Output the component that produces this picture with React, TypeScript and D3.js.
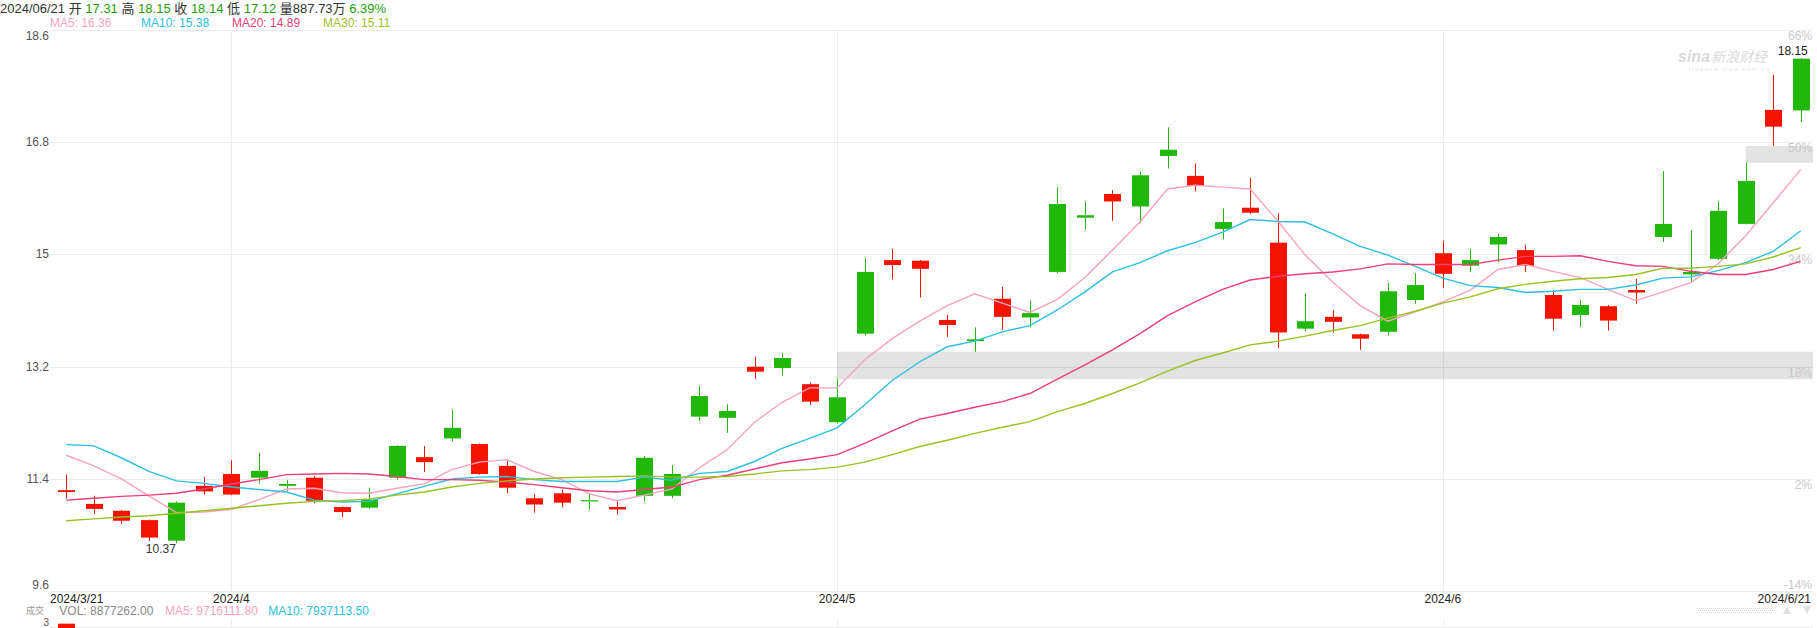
import React from 'react';
import * as d3 from 'd3';

const dates = [
  '3/21','3/22','3/25','3/26','3/27','3/28',
  '4/1','4/2','4/3','4/4','4/5','4/8','4/9','4/10','4/11','4/12','4/15','4/16','4/17','4/18','4/19','4/22','4/23','4/24','4/25','4/26','4/29','4/30',
  '5/1','5/2','5/3','5/6','5/7','5/8','5/9','5/10','5/13','5/14','5/15','5/16','5/17','5/20','5/21','5/22','5/23','5/24','5/28','5/29','5/30','5/31',
  '6/3','6/4','6/5','6/6','6/7','6/10','6/11','6/12','6/13','6/14','6/17','6/18','6/20','6/21'
];
const open = [11.22,11.00,10.89,10.74,10.41,11.29,11.48,11.42,11.29,11.42,10.95,10.94,11.42,11.75,12.05,11.96,11.61,11.09,11.17,11.04,10.95,11.13,11.13,12.40,12.38,13.20,13.18,12.92,12.31,13.73,14.91,14.90,13.95,13.61,14.29,13.99,14.72,15.59,15.97,15.77,16.58,16.26,15.41,15.75,15.19,13.81,14.00,13.72,13.76,14.27,15.02,14.82,15.16,15.07,14.35,14.03,14.17,14.43,15.28,14.68,14.93,15.49,17.32,17.31];
const high = [11.47,11.13,10.90,10.75,11.04,11.43,11.70,11.82,11.38,11.45,10.96,11.26,11.94,11.93,12.51,11.97,11.69,11.16,11.23,11.17,11.04,11.77,11.62,12.89,12.60,13.36,13.42,12.95,13.00,14.94,15.09,14.91,14.03,13.83,14.48,14.26,16.08,15.85,16.03,16.33,17.04,16.46,15.74,16.23,15.66,14.38,14.11,13.73,14.54,14.70,15.22,15.09,15.33,15.15,14.43,14.27,14.19,14.61,16.34,15.39,15.85,16.47,17.88,18.15];
const low = [11.09,10.84,10.68,10.41,10.37,11.15,11.14,11.33,11.20,11.01,10.79,10.92,11.39,11.51,12.00,11.47,11.17,10.86,10.95,10.91,10.83,11.04,11.09,12.33,12.14,13.01,13.06,12.59,12.29,13.70,14.60,14.31,13.68,13.44,13.79,13.83,14.70,15.40,15.54,15.51,16.38,16.01,15.24,15.65,13.50,13.77,13.75,13.47,13.70,14.21,14.46,14.72,14.88,14.72,13.78,13.84,13.78,14.21,15.20,14.55,14.91,15.48,16.74,17.12];
const close = [11.19,10.92,10.73,10.46,11.02,11.20,11.15,11.53,11.32,11.05,10.87,11.07,11.93,11.67,12.22,11.48,11.26,10.99,11.02,11.06,10.91,11.74,11.48,12.73,12.49,13.12,13.34,12.64,12.71,14.72,14.83,14.77,13.87,13.64,14.00,14.06,15.81,15.63,15.85,16.27,16.68,16.10,15.52,15.67,13.75,13.93,13.92,13.65,14.41,14.51,14.69,14.91,15.28,14.82,13.97,14.19,13.94,14.39,15.49,14.72,15.70,16.18,17.05,18.14];

const ma5 = [11.78,11.61,11.40,11.13,10.86,10.87,10.91,11.07,11.24,11.25,11.18,11.17,11.25,11.32,11.55,11.67,11.71,11.52,11.39,11.16,11.05,11.14,11.24,11.58,11.87,12.31,12.63,12.86,12.86,13.31,13.65,13.93,14.18,14.37,14.22,14.07,14.28,14.63,15.07,15.52,16.05,16.11,16.08,16.05,15.54,14.99,14.56,14.18,13.93,14.08,14.24,14.43,14.76,14.84,14.73,14.63,14.44,14.26,14.40,14.55,14.85,15.30,15.83,16.36];
const ma10 = [11.95,11.93,11.74,11.52,11.37,11.33,11.27,11.23,11.19,11.06,11.03,11.04,11.16,11.28,11.40,11.43,11.44,11.39,11.36,11.36,11.36,11.43,11.38,11.49,11.52,11.68,11.89,12.05,12.22,12.59,12.98,13.28,13.52,13.61,13.76,13.86,14.11,14.40,14.72,14.87,15.06,15.19,15.36,15.56,15.53,15.52,15.33,15.13,14.99,14.81,14.62,14.50,14.47,14.39,14.41,14.44,14.44,14.51,14.62,14.64,14.74,14.87,15.05,15.38];
const ma20 = [11.06,11.09,11.12,11.14,11.17,11.24,11.32,11.39,11.47,11.48,11.49,11.48,11.44,11.39,11.39,11.38,11.35,11.31,11.26,11.21,11.19,11.23,11.27,11.39,11.46,11.56,11.66,11.72,11.79,11.97,12.17,12.36,12.45,12.55,12.64,12.77,13.00,13.23,13.47,13.73,14.02,14.24,14.44,14.59,14.65,14.69,14.72,14.77,14.85,14.84,14.84,14.84,14.91,14.97,14.97,14.98,14.89,14.82,14.81,14.73,14.68,14.68,14.76,14.89];
const ma30 = [10.73,10.76,10.79,10.81,10.85,10.89,10.93,10.97,11.01,11.04,11.05,11.08,11.14,11.19,11.27,11.33,11.37,11.40,11.42,11.43,11.44,11.45,11.43,11.43,11.44,11.48,11.53,11.55,11.59,11.67,11.79,11.92,12.02,12.13,12.23,12.32,12.48,12.61,12.77,12.94,13.13,13.30,13.42,13.55,13.61,13.69,13.78,13.86,13.98,14.09,14.22,14.32,14.45,14.52,14.57,14.61,14.63,14.68,14.78,14.78,14.81,14.85,14.96,15.11];

const maNames = ['MA5', 'MA10', 'MA20', 'MA30'];
const maHeaderValues = ['16.36', '15.38', '14.89', '15.11'];

const priceTicks = [18.6, 16.8, 15, 13.2, 11.4, 9.6];
const priceTickLabels = ['18.6', '16.8', '15', '13.2', '11.4', '9.6'];
const pctTickLabels = ['66%', '50%', '34%', '18%', '2%', '-14%'];

const monthTickDates = ['4/1', '5/1', '6/3'];
const monthTickLabels = ['2024/4', '2024/5', '2024/6'];
const firstDateLabel = '2024/3/21';
const lastDateLabel = '2024/6/21';

const gapStartDates = ['5/1', '6/18'];
const gapLow = [13.0, 16.47];
const gapHigh = [13.44, 16.74];

const volumeDates = ['3/21', '6/21'];
const volumeValues = [31000000, 8877262];
const volumeTickLabel = '3';

const header = [
  { t: '2024/06/21 ', c: 'dark' }, { t: '开 ', c: 'dark' }, { t: '17.31', c: 'up' },
  { t: ' 高 ', c: 'dark' }, { t: '18.15', c: 'up' }, { t: ' 收 ', c: 'dark' }, { t: '18.14', c: 'up' },
  { t: ' 低 ', c: 'dark' }, { t: '17.12', c: 'up' }, { t: ' 量', c: 'dark' }, { t: '887.73万', c: 'dark' },
  { t: ' 6.39%', c: 'up' },
];

const W = 1817;
const H = 628;
const FONT = "'Liberation Sans', Arial, 'Noto Sans CJK SC', sans-serif";
const UP = '#22b80a';
const DOWN = '#f31400';
const MA_COLORS = ['#f7a3bf', '#2cbfe0', '#ec3f75', '#9bc11f'];

export default function App() {
  const plotLeft = 50;
  const plotRight = 1813;
  const x = d3.scaleBand<string>().domain(dates).range([52.5, 1814.5]).paddingInner(0).paddingOuter(0);
  const bw = x.bandwidth();
  const xc = (d: string) => (x(d) as number) + bw / 2;
  const y = d3.scaleLinear().domain([9.6, 18.6]).range([591.2, 30.0]);
  const yVol = d3.scaleLinear().domain([0, 30000000]).range([727, 627]);

  const line = d3.line<number>().x((_, i) => xc(dates[i])).y((v) => y(v));
  const mas = [ma5, ma10, ma20, ma30];
  const bodyW = 17;

  const gridColor = '#ececec';

  return (
    <svg width={W} height={H} style={{ position: 'absolute', left: 0, top: 0, background: '#fff' }} fontFamily={FONT}>
      <rect x={0} y={0} width={W} height={H} fill="#fff" />
      {/* header */}
      <text x={0} y={7.5} fontSize={13} dominantBaseline="central">
        {header.map((h, i) => (
          <tspan key={i} fill={h.c === 'up' ? '#1f9e0c' : '#333'}>{h.t}</tspan>
        ))}
      </text>
      {maNames.map((n, i) => (
        <text key={n} x={50 + i * 91} y={22.7} fontSize={12} dominantBaseline="central" fill={MA_COLORS[i]}>
          {n}: {maHeaderValues[i]}
        </text>
      ))}

      {/* horizontal grid */}
      {priceTicks.map((p) => (
        <line key={p} x1={plotLeft} x2={plotRight} y1={Math.round(y(p)) + 0.5} y2={Math.round(y(p)) + 0.5} stroke={gridColor} />
      ))}
      {/* vertical grid */}
      {monthTickDates.map((d) => (
        <g key={d}>
          <line x1={Math.round(xc(d)) + 0.5} x2={Math.round(xc(d)) + 0.5} y1={y(18.6)} y2={y(9.6)} stroke={gridColor} />
          <line x1={Math.round(xc(d)) + 0.5} x2={Math.round(xc(d)) + 0.5} y1={619} y2={H} stroke={gridColor} />
        </g>
      ))}
      <line x1={plotLeft} x2={plotRight} y1={627.5} y2={627.5} stroke={gridColor} />

      {/* gap bands */}
      {gapStartDates.map((d, i) => (
        <rect key={d} x={xc(d)} width={plotRight - xc(d)} y={y(gapHigh[i])} height={y(gapLow[i]) - y(gapHigh[i])} fill="rgba(0,0,0,0.11)" />
      ))}

      {/* watermark */}
      <text x={1678} y={62} fontSize={16} fontStyle="italic" fontWeight="bold" fill="#dadada">sina</text>
      <text x={1711} y={62} fontSize={14} fontStyle="italic" fill="#dadada">新浪财经</text>
      <text x={1689} y={71} fontSize={6} fill="#e4e4e4" letterSpacing={1.5}>finance.sina.com.cn</text>

      {/* y labels */}
      {priceTicks.map((p, i) => {
        const yy = y(p);
        const dy = i === 0 ? 6 : i === priceTicks.length - 1 ? -6 : 0;
        return (
          <text key={p} x={49} y={yy + dy} fontSize={12} textAnchor="end" dominantBaseline="central" fill="#555">
            {priceTickLabels[i]}
          </text>
        );
      })}
      {priceTicks.map((p, i) => {
        const yy = y(p);
        const dy = i === priceTicks.length - 1 ? -6 : 6;
        return (
          <text key={'p' + p} x={1812} y={yy + dy} fontSize={12} textAnchor="end" dominantBaseline="central" fill="#c9c9c9">
            {pctTickLabels[i]}
          </text>
        );
      })}

      {/* candles */}
      {dates.map((d, i) => {
        const o = open[i], c = close[i], h = high[i], l = low[i];
        const col = c >= o ? UP : DOWN;
        const cx = Math.round(xc(d)) + 0.5;
        const top = y(Math.max(o, c));
        const bh = Math.max(1, y(Math.min(o, c)) - top);
        return (
          <g key={d}>
            <line x1={cx} x2={cx} y1={y(h)} y2={y(l)} stroke={col} strokeWidth={1} />
            <rect x={Math.round(cx - bodyW / 2)} y={top} width={bodyW} height={bh} fill={col} />
          </g>
        );
      })}

      {/* MA lines */}
      {mas.map((m, k) => (
        <path key={k} d={line(m) || ''} fill="none" stroke={MA_COLORS[k]} strokeWidth={1.4} />
      ))}

      {/* extreme labels */}
      <text x={xc('3/26') - 3} y={y(10.37) + 6} fontSize={12} dominantBaseline="central" fill="#333">10.37</text>
      <text x={xc('6/21') + 7} y={y(18.15) - 7.3} fontSize={12} textAnchor="end" dominantBaseline="central" fill="#222">18.15</text>

      {/* x labels */}
      <text x={plotLeft} y={599.3} fontSize={12} dominantBaseline="central" fill="#222">{firstDateLabel}</text>
      {monthTickDates.map((d, i) => (
        <text key={d} x={xc(d)} y={599.3} fontSize={12} textAnchor="middle" dominantBaseline="central" fill="#222">
          {monthTickLabels[i]}
        </text>
      ))}
      <text x={1811} y={599.3} fontSize={12} textAnchor="end" dominantBaseline="central" fill="#222">{lastDateLabel}</text>

      {/* volume header */}
      <text x={26} y={611} fontSize={9} dominantBaseline="central" fill="#999">成交</text>
      <text x={59.3} y={611} fontSize={12} dominantBaseline="central" fill="#888">VOL: 8877262.00</text>
      <text x={165} y={611} fontSize={12} dominantBaseline="central" fill={MA_COLORS[0]}>MA5: 9716111.80</text>
      <text x={268.3} y={611} fontSize={12} dominantBaseline="central" fill={MA_COLORS[1]}>MA10: 7937113.50</text>
      <text x={49} y={622.5} fontSize={10} textAnchor="end" dominantBaseline="central" fill="#555">{volumeTickLabel}</text>

      {/* volume bars */}
      {volumeDates.map((d, i) => {
        const idx = dates.indexOf(d);
        const col = close[idx] >= open[idx] ? UP : DOWN;
        const cx = Math.round(xc(d)) + 0.5;
        return <rect key={d} x={Math.round(cx - bodyW / 2)} y={yVol(volumeValues[i])} width={bodyW} height={727 - yVol(volumeValues[i])} fill={col} />;
      })}

      {/* scroller */}
      <line x1={1697} x2={1773} y1={608.5} y2={608.5} stroke="#d6d6d6" strokeDasharray="1,1" />
      <line x1={1698} x2={1773} y1={610.5} y2={610.5} stroke="#d6d6d6" strokeDasharray="1,1" />
      <line x1={1697} x2={1773} y1={612.5} y2={612.5} stroke="#d6d6d6" strokeDasharray="1,1" />
      <path d="M1783,614 L1791,614 L1787,606 Z" fill="#e0e0e0" />
      <path d="M1803,606 L1811,606 L1807,614 Z" fill="#e0e0e0" />
    </svg>
  );
}
